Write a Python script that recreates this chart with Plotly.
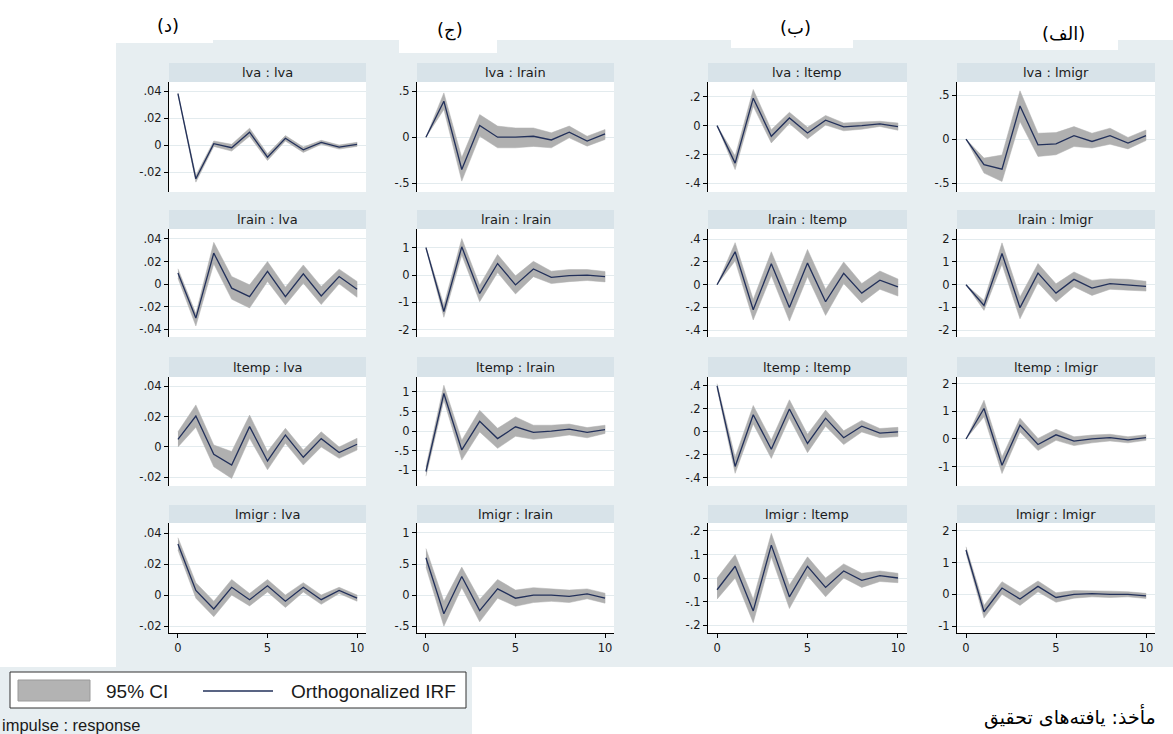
import plotly.graph_objects as go

# ---------------- data ----------------
horizon = [0, 1, 2, 3, 4, 5, 6, 7, 8, 9, 10]
variables = ["lva", "lrain", "ltemp", "lmigr"]          # impulses (rows) / responses (cols)
col_labels = ["(د)", "(ج)", "(ب)", "(الف)"]

# response: lva
lva_lva_irf = [0.038, -0.025, 0.001, -0.002, 0.0095, -0.009, 0.005, -0.0035, 0.002, -0.0015, 0.0005]
lva_lva_hi = [0.0385, -0.0225, 0.003, 0.0005, 0.0125, -0.0065, 0.007, -0.0015, 0.0035, 0.0, 0.002]
lva_lva_lo = [0.0375, -0.0275, -0.001, -0.0045, 0.0065, -0.0115, 0.003, -0.0055, 0.0005, -0.003, -0.001]

lrain_lva_irf = [0.0098, -0.030, 0.0275, -0.0035, -0.011, 0.0113, -0.011, 0.0092, -0.0104, 0.0068, -0.0044]
lrain_lva_hi = [0.0136, -0.026, 0.037, 0.0068, -0.0006, 0.020, -0.0027, 0.017, -0.002, 0.0133, 0.0024]
lrain_lva_lo = [0.0053, -0.037, 0.018, -0.0133, -0.021, 0.0024, -0.0184, 0.0009, -0.018, 0.0003, -0.0116]

ltemp_lva_irf = [0.005, 0.0204, -0.0048, -0.0119, 0.0134, -0.0092, 0.0079, -0.0068, 0.0055, -0.0037, 0.0018]
ltemp_lva_hi = [0.010, 0.0277, 0.0013, -0.003, 0.021, -0.003, 0.0123, -0.002, 0.010, 0.000, 0.0057]
ltemp_lva_lo = [0.000, 0.013, -0.013, -0.0207, 0.0057, -0.015, 0.0024, -0.0119, 0.000, -0.0075, -0.002]

lmigr_lva_irf = [0.033, 0.003, -0.009, 0.005, -0.003, 0.006, -0.004, 0.005, -0.003, 0.003, -0.002]
lmigr_lva_hi = [0.037, 0.008, -0.004, 0.010, 0.001, 0.010, 0.000, 0.008, 0.000, 0.005, 0.000]
lmigr_lva_lo = [0.029, -0.002, -0.014, 0.000, -0.007, 0.002, -0.008, 0.002, -0.006, 0.001, -0.004]

# response: lrain
lva_lrain_irf = [0.0, 0.39, -0.35, 0.126, 0.0, 0.0, 0.01, -0.03, 0.054, -0.043, 0.036]
lva_lrain_hi = [0.0, 0.48, -0.22, 0.245, 0.12, 0.10, 0.10, 0.047, 0.12, 0.01, 0.083]
lva_lrain_lo = [0.0, 0.30, -0.476, 0.01, -0.115, -0.115, -0.10, -0.115, -0.007, -0.097, -0.025]

lrain_lrain_irf = [1.0, -1.33, 1.03, -0.67, 0.42, -0.36, 0.22, -0.085, -0.02, 0.0, -0.06]
lrain_lrain_hi = [1.03, -1.09, 1.33, -0.37, 0.75, -0.03, 0.5, 0.14, 0.2, 0.2, 0.13]
lrain_lrain_lo = [0.97, -1.54, 0.73, -0.97, 0.09, -0.69, -0.06, -0.31, -0.24, -0.2, -0.25]

ltemp_lrain_irf = [-1.03, 0.96, -0.48, 0.25, -0.19, 0.11, -0.03, 0.0, 0.05, -0.03, 0.04]
ltemp_lrain_hi = [-0.91, 1.17, -0.23, 0.53, 0.07, 0.36, 0.15, 0.15, 0.18, 0.09, 0.15]
ltemp_lrain_lo = [-1.15, 0.79, -0.74, -0.02, -0.44, -0.13, -0.21, -0.16, -0.1, -0.17, -0.06]

lmigr_lrain_irf = [0.6, -0.3, 0.3, -0.25, 0.1, -0.05, 0.0, 0.0, -0.02, 0.02, -0.05]
lmigr_lrain_hi = [0.75, -0.1, 0.45, -0.07, 0.25, 0.08, 0.12, 0.1, 0.08, 0.1, 0.03]
lmigr_lrain_lo = [0.45, -0.5, 0.12, -0.43, -0.05, -0.18, -0.12, -0.1, -0.12, -0.06, -0.13]

# response: ltemp
lva_ltemp_irf = [0.0, -0.26, 0.19, -0.074, 0.053, -0.051, 0.037, -0.009, 0.0, 0.012, -0.007]
lva_ltemp_hi = [0.0, -0.21, 0.25, -0.028, 0.092, -0.012, 0.07, 0.018, 0.025, 0.03, 0.018]
lva_ltemp_lo = [0.0, -0.305, 0.134, -0.12, 0.014, -0.092, 0.004, -0.036, -0.025, -0.006, -0.032]

lrain_ltemp_irf = [0.0, 0.29, -0.22, 0.185, -0.2, 0.19, -0.15, 0.10, -0.074, 0.04, -0.02]
lrain_ltemp_hi = [0.0, 0.37, -0.13, 0.29, -0.09, 0.31, -0.04, 0.2, 0.01, 0.12, 0.05]
lrain_ltemp_lo = [0.0, 0.21, -0.31, 0.08, -0.32, 0.07, -0.27, 0.01, -0.16, -0.04, -0.1]

ltemp_ltemp_irf = [0.4, -0.3, 0.15, -0.15, 0.2, -0.1, 0.12, -0.05, 0.05, -0.01, 0.0]
ltemp_ltemp_hi = [0.42, -0.22, 0.23, -0.07, 0.28, -0.02, 0.19, 0.01, 0.1, 0.03, 0.04]
ltemp_ltemp_lo = [0.38, -0.36, 0.07, -0.23, 0.12, -0.18, 0.05, -0.11, 0.0, -0.05, -0.04]

lmigr_ltemp_irf = [-0.05, 0.05, -0.14, 0.14, -0.08, 0.05, -0.04, 0.03, -0.01, 0.01, 0.0]
lmigr_ltemp_hi = [0.0, 0.1, -0.09, 0.19, -0.03, 0.09, 0.0, 0.06, 0.02, 0.03, 0.02]
lmigr_ltemp_lo = [-0.09, 0.0, -0.19, 0.09, -0.13, 0.01, -0.08, 0.0, -0.04, -0.015, -0.02]

# response: lmigr
lva_lmigr_irf = [0.0, -0.29, -0.34, 0.377, -0.064, -0.053, 0.04, -0.026, 0.04, -0.045, 0.04]
lva_lmigr_hi = [0.0, -0.215, -0.18, 0.55, 0.068, 0.075, 0.143, 0.068, 0.125, 0.02, 0.105]
lva_lmigr_lo = [0.0, -0.385, -0.48, 0.2, -0.196, -0.177, -0.083, -0.1, -0.057, -0.11, -0.015]

lrain_lmigr_irf = [0.0, -0.91, 1.37, -1.01, 0.51, -0.37, 0.235, -0.15, 0.044, 0.0, -0.07]
lrain_lmigr_hi = [0.0, -0.69, 1.84, -0.54, 0.93, 0.04, 0.56, 0.19, 0.26, 0.24, 0.15]
lrain_lmigr_lo = [0.0, -1.13, 0.9, -1.5, 0.09, -0.76, -0.09, -0.47, -0.2, -0.24, -0.28]

ltemp_lmigr_irf = [0.0, 1.1, -0.95, 0.5, -0.2, 0.15, -0.08, 0.0, 0.05, -0.03, 0.05]
ltemp_lmigr_hi = [0.0, 1.4, -0.65, 0.75, 0.02, 0.35, 0.08, 0.14, 0.17, 0.08, 0.15]
ltemp_lmigr_lo = [0.0, 0.8, -1.25, 0.25, -0.42, -0.05, -0.24, -0.14, -0.07, -0.14, -0.05]

lmigr_lmigr_irf = [1.4, -0.55, 0.2, -0.15, 0.25, -0.1, 0.0, 0.02, 0.0, 0.0, -0.05]
lmigr_lmigr_hi = [1.5, -0.35, 0.4, 0.05, 0.42, 0.05, 0.12, 0.12, 0.1, 0.08, 0.03]
lmigr_lmigr_lo = [1.3, -0.75, 0.0, -0.35, 0.08, -0.25, -0.12, -0.08, -0.1, -0.08, -0.13]

# y tick values / labels per (row=impulse, column=response)
yticks = {
    (0, 0): ([0.04, 0.02, 0, -0.02], [".04", ".02", "0", "-.02"]),
    (1, 0): ([0.04, 0.02, 0, -0.02, -0.04], [".04", ".02", "0", "-.02", "-.04"]),
    (2, 0): ([0.04, 0.02, 0, -0.02], [".04", ".02", "0", "-.02"]),
    (3, 0): ([0.04, 0.02, 0, -0.02], [".04", ".02", "0", "-.02"]),
    (0, 1): ([0.5, 0, -0.5], [".5", "0", "-.5"]),
    (1, 1): ([1, 0, -1, -2], ["1", "0", "-1", "-2"]),
    (2, 1): ([1, 0.5, 0, -0.5, -1], ["1", ".5", "0", "-.5", "-1"]),
    (3, 1): ([1, 0.5, 0, -0.5], ["1", ".5", "0", "-.5"]),
    (0, 2): ([0.2, 0, -0.2, -0.4], [".2", "0", "-.2", "-.4"]),
    (1, 2): ([0.4, 0.2, 0, -0.2, -0.4], [".4", ".2", "0", "-.2", "-.4"]),
    (2, 2): ([0.4, 0.2, 0, -0.2, -0.4], [".4", ".2", "0", "-.2", "-.4"]),
    (3, 2): ([0.2, 0.1, 0, -0.1, -0.2], [".2", ".1", "0", "-.1", "-.2"]),
    (0, 3): ([0.5, 0, -0.5], [".5", "0", "-.5"]),
    (1, 3): ([2, 1, 0, -1, -2], ["2", "1", "0", "-1", "-2"]),
    (2, 3): ([2, 1, 0, -1], ["2", "1", "0", "-1"]),
    (3, 3): ([2, 1, 0, -1], ["2", "1", "0", "-1"]),
}
yranges = {
    (0, 0): [-0.0348, 0.0467], (1, 0): [-0.0467, 0.0488], (2, 0): [-0.0257, 0.0461], (3, 0): [-0.0245, 0.0465],
    (0, 1): [-0.594, 0.598], (1, 1): [-2.26, 1.68], (2, 1): [-1.40, 1.38], (3, 1): [-0.61, 1.16],
    (0, 2): [-0.46, 0.302], (1, 2): [-0.46, 0.49], (2, 2): [-0.47, 0.478], (3, 2): [-0.234, 0.234],
    (0, 3): [-0.60, 0.65], (1, 3): [-2.3, 2.45], (2, 3): [-1.70, 2.24], (3, 3): [-1.22, 2.25],
}
x_ticks = [0, 5, 10]

# ---------------- style / layout ----------------
W, H = 1173, 734
BG = "#e7eef1"
STRIP = "#d8e3e9"
GRID = "#e3ebee"
BAND = "#b0b0b0"
LINE = "#22305a"
TXT = "#1a1a1a"

col_x = [(169, 366), (417, 614), (708, 907), (957, 1155)]
row_plot = [(82, 192), (229, 337), (377, 486), (523, 633)]
row_strip = [(63, 82), (210, 229), (357, 377), (505, 523)]


def px(x):
    return x / W


def py(y):
    return 1 - y / H


g = globals()
fig = go.Figure()
layout = {}
shapes = []
annotations = []

# backgrounds
shapes.append(dict(type="rect", xref="paper", yref="paper", x0=px(116), x1=px(1173), y0=py(667), y1=py(40),
                   fillcolor=BG, line_width=0, layer="below"))
shapes.append(dict(type="rect", xref="paper", yref="paper", x0=px(0), x1=px(472), y0=py(734), y1=py(667),
                   fillcolor=BG, line_width=0, layer="below"))
for (a, b, c, d) in [(110, 213, 40, 43), (399, 497, 40, 53), (731, 853, 40, 48), (1020, 1118, 40, 50)]:
    shapes.append(dict(type="rect", xref="paper", yref="paper", x0=px(a), x1=px(b), y0=py(d), y1=py(c),
                       fillcolor="white", line_width=0, layer="below"))

for r in range(4):
    for c in range(4):
        k = r * 4 + c + 1
        sfx = "" if k == 1 else str(k)
        imp, resp = variables[r], variables[c]
        irf = g[f"{imp}_{resp}_irf"]
        hi = g[f"{imp}_{resp}_hi"]
        lo = g[f"{imp}_{resp}_lo"]
        x0, x1 = col_x[c]
        y0, y1 = row_plot[r]
        s0, s1 = row_strip[r]

        fig.add_trace(go.Scatter(x=horizon + horizon[::-1], y=hi + lo[::-1], fill="toself",
                                 fillcolor=BAND, line=dict(color=BAND, width=0.5), mode="lines",
                                 hoverinfo="skip", showlegend=False, xaxis="x" + sfx, yaxis="y" + sfx))
        fig.add_trace(go.Scatter(x=horizon, y=irf, mode="lines", line=dict(color=LINE, width=1.3),
                                 showlegend=False, xaxis="x" + sfx, yaxis="y" + sfx))

        bottom = (r == 3)
        layout["xaxis" + sfx] = dict(domain=[px(x0), px(x1)], anchor="y" + sfx, range=[-0.5, 10.5],
                                     showgrid=False, zeroline=False,
                                     showline=bottom, linecolor="black", linewidth=1,
                                     ticks="outside" if bottom else "", ticklen=4, tickcolor="black",
                                     tickmode="array", tickvals=x_ticks, showticklabels=bottom,
                                     tickfont=dict(family="DejaVu Sans", size=11.5, color=TXT))
        tv, tt = yticks[(r, c)]
        layout["yaxis" + sfx] = dict(domain=[py(y1), py(y0)], anchor="x" + sfx, range=yranges[(r, c)],
                                     showgrid=True, gridcolor=GRID, gridwidth=1, zeroline=False,
                                     showline=True, linecolor="black", linewidth=1,
                                     ticks="outside", ticklen=4, tickcolor="black",
                                     tickmode="array", tickvals=tv, ticktext=tt,
                                     tickfont=dict(family="DejaVu Sans", size=11.5, color=TXT))
        # white plot region and strip
        shapes.append(dict(type="rect", xref="paper", yref="paper", x0=px(x0), x1=px(x1), y0=py(y1), y1=py(y0),
                           fillcolor="white", line_width=0, layer="below"))
        shapes.append(dict(type="rect", xref="paper", yref="paper", x0=px(x0), x1=px(x1), y0=py(s1), y1=py(s0),
                           fillcolor=STRIP, line_width=0, layer="below"))
        annotations.append(dict(x=px((x0 + x1) / 2), y=py((s0 + s1) / 2), xref="paper", yref="paper",
                                text=f"{imp} : {resp}", showarrow=False, xanchor="center", yanchor="middle",
                                font=dict(family="DejaVu Sans", size=13, color=TXT)))

# column labels
for (lbl, cx, cy) in zip(col_labels, [168, 450, 795, 1063], [25, 30, 27, 33]):
    annotations.append(dict(x=px(cx), y=py(cy), xref="paper", yref="paper", text=lbl, showarrow=False,
                            xanchor="center", yanchor="middle", font=dict(family="DejaVu Sans", size=18, color="black")))

# legend (drawn)
shapes.append(dict(type="rect", xref="paper", yref="paper", x0=px(10), x1=px(466), y0=py(708), y1=py(672),
                   fillcolor="white", line=dict(color="#333333", width=1)))
shapes.append(dict(type="rect", xref="paper", yref="paper", x0=px(18), x1=px(90), y0=py(701), y1=py(680),
                   fillcolor="#b3b3b3", line=dict(color="#999999", width=1)))
shapes.append(dict(type="line", xref="paper", yref="paper", x0=px(203), x1=px(273), y0=py(691), y1=py(691),
                   line=dict(color=LINE, width=1.3)))
annotations.append(dict(x=px(104), y=py(691), xref="paper", yref="paper", text="95% CI", showarrow=False,
                        xanchor="left", yanchor="middle", font=dict(family="Liberation Sans", size=19, color=TXT)))
annotations.append(dict(x=px(289), y=py(691), xref="paper", yref="paper", text="Orthogonalized IRF",
                        showarrow=False, xanchor="left", yanchor="middle",
                        font=dict(family="Liberation Sans", size=19, color=TXT)))
annotations.append(dict(x=px(0), y=py(725), xref="paper", yref="paper", text="impulse : response",
                        showarrow=False, xanchor="left", yanchor="middle",
                        font=dict(family="Liberation Sans", size=16.5, color=TXT)))
annotations.append(dict(x=px(1158), y=py(716), xref="paper", yref="paper", text="مأخذ: یافته\u200cهای تحقیق",
                        showarrow=False, xanchor="right", yanchor="middle",
                        font=dict(family="DejaVu Sans", size=19, color="black")))

fig.update_layout(width=W, height=H, autosize=False, margin=dict(l=0, r=0, t=0, b=0, pad=0),
                  paper_bgcolor="white", plot_bgcolor="rgba(0,0,0,0)",
                  shapes=shapes, annotations=annotations, showlegend=False, **layout)

fig.write_html("out.html", config={"displayModeBar": False},
               post_script="document.body.style.margin='0';")
